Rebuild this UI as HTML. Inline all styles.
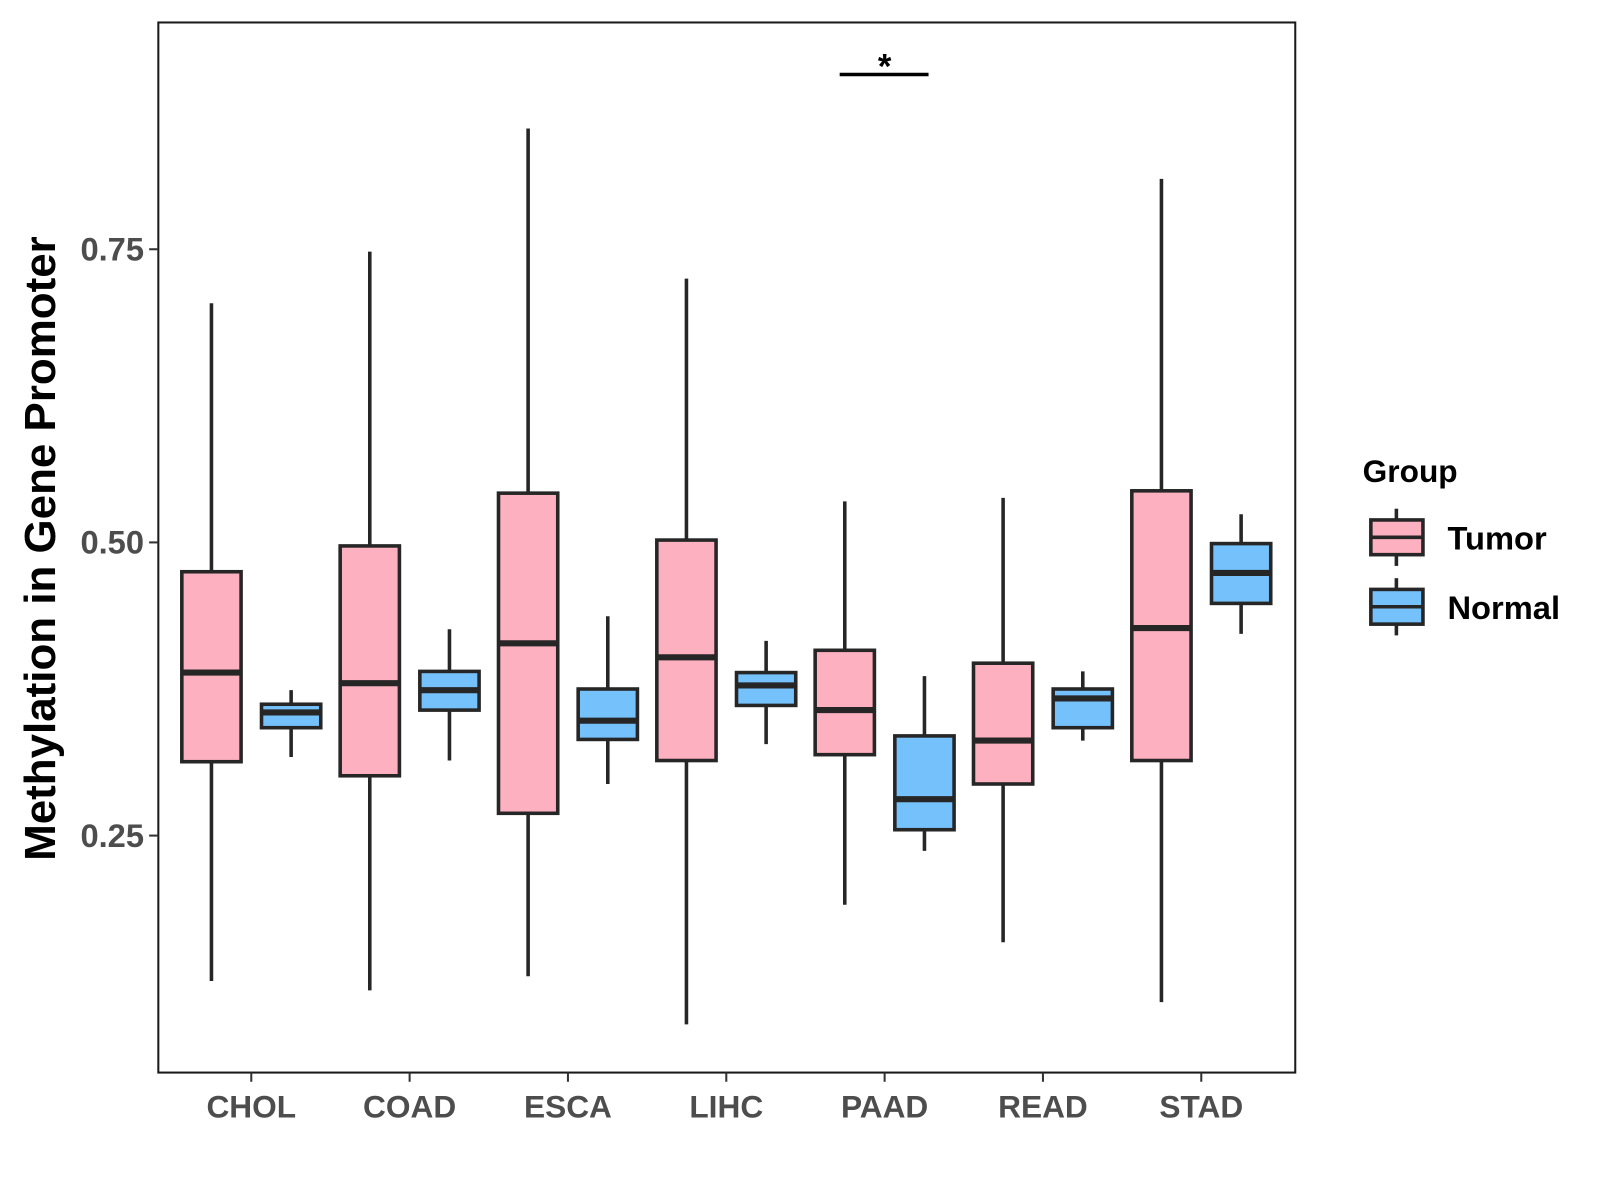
<!DOCTYPE html>
<html><head><meta charset="utf-8"><style>
html,body{margin:0;padding:0;background:#fff}
svg{display:block;font-family:"Liberation Sans",Arial,sans-serif}
</style></head><body>
<svg id="chart" width="1600" height="1200" viewBox="0 0 1600 1200">
<rect width="1600" height="1200" fill="#fff"/>
<g transform="scale(1.0215)">
<g id="plot"></g>
<text transform="translate(54,537) rotate(-90)" text-anchor="middle" font-size="43" font-weight="bold" fill="#000">Methylation in Gene Promoter</text>
<g>
<text x="1334" y="472" font-size="31" font-weight="bold">Group</text>
<g>
<line x1="1367" y1="498" x2="1367" y2="554" stroke="#262626" stroke-width="3.5"/>
<rect x="1342" y="509" width="51" height="34" fill="#FDB0C0" stroke="#262626" stroke-width="3.5"/>
<line x1="1342" y1="526" x2="1393" y2="526" stroke="#262626" stroke-width="3.5"/>
<text x="1417" y="538" font-size="32" font-weight="bold">Tumor</text></g>
<g>
<line x1="1367" y1="566" x2="1367" y2="622" stroke="#262626" stroke-width="3.5"/>
<rect x="1342" y="577" width="51" height="34" fill="#75C1FB" stroke="#262626" stroke-width="3.5"/>
<line x1="1342" y1="594" x2="1393" y2="594" stroke="#262626" stroke-width="3.5"/>
<text x="1417" y="606" font-size="32" font-weight="bold">Normal</text></g>
</g>
</g>
</svg>
<script>
const categories = ["CHOL","COAD","ESCA","LIHC","PAAD","READ","STAD"];
// [low, q1, median, q3, high]
const tumorStats = [
 [0.126,0.313,0.389,0.475,0.704],
 [0.118,0.301,0.380,0.497,0.748],
 [0.130,0.269,0.414,0.542,0.853],
 [0.089,0.314,0.402,0.502,0.725],
 [0.191,0.319,0.357,0.408,0.535],
 [0.159,0.294,0.331,0.397,0.538],
 [0.108,0.314,0.427,0.544,0.810]];
const normalStats = [
 [0.317,0.342,0.355,0.362,0.374],
 [0.314,0.357,0.374,0.390,0.426],
 [0.294,0.332,0.348,0.375,0.437],
 [0.328,0.361,0.378,0.389,0.416],
 [0.237,0.255,0.281,0.335,0.386],
 [0.331,0.342,0.367,0.375,0.390],
 [0.422,0.448,0.474,0.499,0.524]];
const yTicks = [0.25,0.50,0.75];
const yTickLabels = ["0.25","0.50","0.75"];
const sigCategory = "PAAD";
const sigValue = 0.899;

const NS="http://www.w3.org/2000/svg";
const g=document.getElementById('plot');
const PL=155,PR=1268,PT=22,PB=1050;
function y(v){return 531-(v-0.5)*1148;}
function x(i){return 246+i*155;}
function mk(t,a,p){const e=document.createElementNS(NS,t);for(const k in a)e.setAttribute(k,a[k]);(p||g).appendChild(e);return e;}
const border=mk('rect',{x:PL,y:PT,width:PR-PL,height:PB-PT,fill:'none',stroke:'#1a1a1a','stroke-width':2});


yTicks.forEach((t,i)=>{
 mk('line',{x1:PL-9,x2:PL,y1:y(t),y2:y(t),stroke:'#333','stroke-width':2});
 const tx=mk('text',{x:PL-14,y:y(t)+11,'text-anchor':'end','font-size':32,'font-weight':'bold',fill:'#4d4d4d'});
 tx.textContent=yTickLabels[i];
 
 
});
categories.forEach((c,i)=>{
 mk('line',{x1:x(i),x2:x(i),y1:PB,y2:PB+9,stroke:'#333','stroke-width':2});
 const tx=mk('text',{x:x(i),y:PB+44,'text-anchor':'middle','font-size':31,'font-weight':'bold',fill:'#4d4d4d'});
 tx.textContent=c;
 
 
});
function box(cx,s,fill,name){
 const b=mk('g',{});
 
 
 mk('line',{x1:cx,x2:cx,y1:y(s[0]),y2:y(s[4]),stroke:'#262626','stroke-width':3.5},b);
 mk('rect',{x:cx-29,y:y(s[3]),width:58,height:y(s[1])-y(s[3]),fill:fill,stroke:'#262626','stroke-width':3.5},b);
 mk('line',{x1:cx-29,x2:cx+29,y1:y(s[2]),y2:y(s[2]),stroke:'#262626','stroke-width':6},b);
}
categories.forEach((c,i)=>{
 box(x(i)-39,tumorStats[i],'#FDB0C0','box-tumor-'+c.toLowerCase());
 box(x(i)+39,normalStats[i],'#75C1FB','box-normal-'+c.toLowerCase());
});
const si=categories.indexOf(sigCategory);
const sl=mk('line',{x1:x(si)-44,x2:x(si)+43,y1:y(sigValue),y2:y(sigValue),stroke:'#000','stroke-width':3.5});


const st=mk('text',{x:x(si),y:y(sigValue)+4,'text-anchor':'middle','font-size':34,'font-weight':'bold'});
st.textContent='*';


</script>
</body></html>
